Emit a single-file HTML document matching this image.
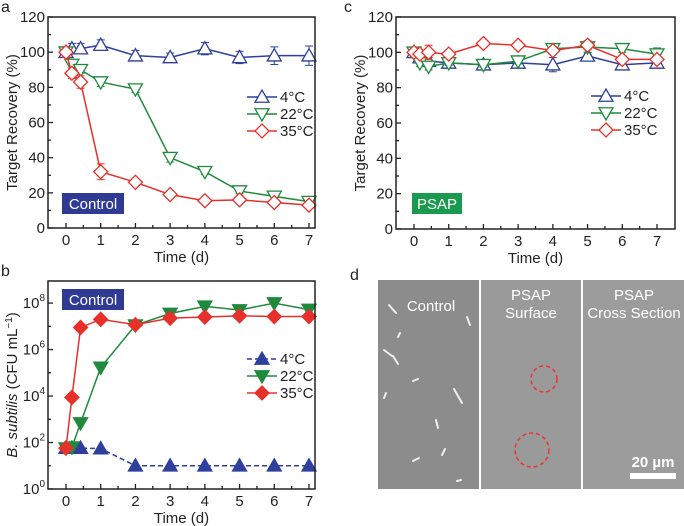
<!DOCTYPE html>
<html><head><meta charset="utf-8"><style>
body{margin:0;background:#fff}
svg{display:block;font-family:"Liberation Sans",sans-serif}
</style></head><body>
<svg id="fig" width="684" height="526" viewBox="0 0 684 526" xmlns="http://www.w3.org/2000/svg">
<g id="d">
 <text x="350" y="280" font-size="16" fill="#222">d</text>
 <rect x="378" y="280" width="101" height="209" fill="#8c8c8c"/>
 <rect x="481" y="280" width="100" height="209" fill="#9a9a9a"/>
 <rect x="583" y="280" width="101" height="209" fill="#9c9c9c"/>
 <g stroke="#eee" stroke-width="2" stroke-linecap="round">
  <line x1="389" y1="305" x2="396" y2="313"/><line x1="384" y1="350" x2="392" y2="356"/><line x1="393" y1="356" x2="398" y2="364"/>
  <line x1="454" y1="389" x2="462" y2="403"/><line x1="467" y1="317" x2="470" y2="325"/><line x1="436" y1="420" x2="438" y2="428"/>
  <line x1="413" y1="381" x2="418" y2="379"/><line x1="442" y1="455" x2="445" y2="449"/><line x1="413" y1="461" x2="419" y2="458"/>
  <line x1="384" y1="398" x2="386" y2="393"/><line x1="398" y1="337" x2="400" y2="333"/><line x1="457" y1="481" x2="461" y2="480"/>
 </g>
 <circle cx="544" cy="379" r="13" fill="none" stroke="#e33" stroke-width="1.5" stroke-dasharray="4 3"/>
 <circle cx="532" cy="450" r="17" fill="none" stroke="#e33" stroke-width="1.5" stroke-dasharray="4 3"/>
 <g fill="#fff" font-size="15" text-anchor="middle">
  <text x="431" y="311">Control</text>
  <text x="531" y="300">PSAP</text>
  <text x="531" y="318">Surface</text>
  <text x="634" y="300">PSAP</text>
  <text x="634" y="318">Cross Section</text>
  <text x="653" y="467" font-weight="bold">20 µm</text>
 </g>
 <rect x="630" y="473" width="46" height="6" fill="#fff"/>
</g>
</svg>
<script>
const days = [0, 0.17, 0.42, 1, 2, 3, 4, 5, 6, 7];
const seriesNames = ["4°C", "22°C", "35°C"];
const aVal4 = [100, 102, 102, 104, 98, 97, 102, 97, 98, 98];
const aVal22 = [100, 93, 90, 83, 79, 40, 32, 21, 18, 15];
const aVal35 = [100, 88, 83, 32, 26, 19, 15.5, 16, 14.5, 13];
const aErr4 = [3, 3, 3, 3, 3, 2.5, 3.5, 3.5, 5, 5.5];
const aErr22 = [2, 2, 2, 2.5, 2, 2.5, 1.5, 1.5, 1.5, 1.5];
const aErr35 = [3, 3, 3.5, 4.5, 2, 2, 1.5, 1.5, 1.5, 1.5];
const cVal4 = [100, 97, 95, 94, 93, 94, 93, 98, 93, 94];
const cVal22 = [100, 94, 92, 94, 93, 95, 102, 103, 102, 99];
const cVal35 = [100, 99, 100, 99, 105, 104, 101, 104, 96, 96];
const cErr4 = [2, 2, 2, 1.5, 1.5, 1.5, 4, 2, 1.5, 1.5];
const cErr22 = [2, 2, 2, 1.5, 1.5, 1.5, 2, 3, 2, 3.5];
const cErr35 = [2, 2, 4, 2, 1.5, 1.5, 2, 2.5, 2, 1.5];
const bLog4 = [1.76, 1.76, 1.76, 1.74, 1.0, 1.0, 1.0, 1.0, 1.0, 1.0];
const bLog22 = [1.76, 1.8, 2.84, 5.23, 7.05, 7.55, 7.86, 7.7, 8.0, 7.72];
const bLog35 = [1.76, 3.94, 6.95, 7.3, 7.07, 7.35, 7.4, 7.45, 7.42, 7.42];
const xTicks = [0, 1, 2, 3, 4, 5, 6, 7];
const linTicks = [0, 20, 40, 60, 80, 100, 120];
const logTicks = [0, 2, 4, 6, 8];

const NS = "http://www.w3.org/2000/svg";
const svg = document.getElementById("fig");
const colors = ["#2e3f9c", "#1f8a3c", "#e8302a"];
function mk(tag, attrs, parent) {
  const e = document.createElementNS(NS, tag);
  for (const k in attrs) e.setAttribute(k, attrs[k]);
  (parent || svg).appendChild(e);
  return e;
}
function marker(g, kind, x, y, color, filled) {
  const s = 7;
  let el;
  if (kind === 0) el = mk("polygon", {points: `${x},${y-s} ${x-s},${y+s*0.75} ${x+s},${y+s*0.75}`}, g);
  else if (kind === 1) el = mk("polygon", {points: `${x},${y+s} ${x-s},${y-s*0.75} ${x+s},${y-s*0.75}`}, g);
  else el = mk("polygon", {points: `${x},${y-s} ${x+s},${y} ${x},${y+s} ${x-s},${y}`}, g);
  el.setAttribute("fill", filled ? color : "#fff");
  el.setAttribute("stroke", color);
  el.setAttribute("stroke-width", "1.3");
  
  
}
function panel(opt) {
  const g = mk("g", {});
  
  
  const {L, R, T, B, x0, x7} = opt;
  const sx = d => x0 + (x7 - x0) * d / 7;
  const sy = v => B - (B - T) * (v - opt.ymin) / (opt.ymax - opt.ymin);
  const lbl = mk("text", {x: opt.lx, y: opt.ly, "font-size": 16, fill: "#222"}, g);
  lbl.textContent = opt.letter;
  
  
  xTicks.forEach(t => {
    mk("line", {x1: sx(t), x2: sx(t), y1: B, y2: B - 5, stroke: "#222", "stroke-width": 1.3}, g);
    if (t < 7) mk("line", {x1: sx(t + 0.5), x2: sx(t + 0.5), y1: B, y2: B - 3, stroke: "#222", "stroke-width": 1.3}, g);
    const tx = mk("text", {x: sx(t), y: B + 17, "font-size": 15, "text-anchor": "middle", fill: "#222"}, g);
    tx.textContent = t;
    
    
  });
  opt.yTicks.forEach((t, i) => {
    const y = sy(t);
    mk("line", {x1: L, x2: L + 5, y1: y, y2: y, stroke: "#222", "stroke-width": 1.3}, g);
    const ty = mk("text", {x: L - 3, y: y + 5, "font-size": 15, "text-anchor": "end", fill: "#222"}, g);
    if (opt.log) { ty.innerHTML = "10<tspan dy='-7' font-size='10'>" + t + "</tspan>"; }
    else ty.textContent = t;
    
    
    if (i < opt.yTicks.length - 1 || opt.log) {
      const m = opt.log ? sy(t + 1) : sy(t + 10);
      if (m >= T) mk("line", {x1: L, x2: L + 3, y1: m, y2: m, stroke: "#222", "stroke-width": 1.3}, g);
    }
  });
  const xt = mk("text", {x: (L + R) / 2, y: B + 34, "font-size": 15, "text-anchor": "middle", fill: "#222"}, g);
  xt.textContent = "Time (d)";
  
  
  const yt = mk("text", {x: 0, y: 0, "font-size": 15, "text-anchor": "middle", fill: "#222", transform: `translate(${L - 31},${(T + B) / 2}) rotate(-90)`}, g);
  if (opt.log) yt.innerHTML = "<tspan font-style='italic'>B. subtilis</tspan> (CFU mL<tspan dy='-5' font-size='10'>−1</tspan><tspan dy='5'>)</tspan>";
  else yt.textContent = "Target Recovery (%)";
  
  
  const tb = mk("rect", {x: opt.tag[0], y: opt.tag[1], width: opt.tag[2], height: 21, fill: opt.tagColor}, g);
  
  
  const tt = mk("text", {x: opt.tag[0] + opt.tag[2] / 2, y: opt.tag[1] + 16, "font-size": 15, fill: "#fff", "text-anchor": "middle"}, g);
  tt.textContent = opt.tagText;
  
  
  opt.series.forEach((vals, si) => {
    const c = colors[si];
    const sg = mk("g", {}, g);
    
    
    const pts = vals.map((v, i) => sx(days[i]) + "," + sy(v)).join(" ");
    const pl = mk("polyline", {points: pts, fill: "none", stroke: c, "stroke-width": 1.5}, sg);
    if (opt.log && si === 0) pl.setAttribute("stroke-dasharray", "5 3");
    
    
    if (opt.errs) vals.forEach((v, i) => {
      const e = opt.errs[si][i], x = sx(days[i]);
      mk("line", {x1: x, x2: x, y1: sy(v - e), y2: sy(v + e), stroke: c, "stroke-width": 1}, sg);
      mk("line", {x1: x - 4, x2: x + 4, y1: sy(v - e), y2: sy(v - e), stroke: c, "stroke-width": 1}, sg);
      mk("line", {x1: x - 4, x2: x + 4, y1: sy(v + e), y2: sy(v + e), stroke: c, "stroke-width": 1}, sg);
    });
    vals.forEach((v, i) => marker(sg, si, sx(days[i]), sy(v), c, opt.log));
    const ly = opt.leg[1] + si * 17;
    const ll = mk("line", {x1: opt.leg[0], x2: opt.leg[0] + 30, y1: ly, y2: ly, stroke: c, "stroke-width": 1.5}, g);
    if (opt.log && si === 0) ll.setAttribute("stroke-dasharray", "5 3");
    
    
    marker(g, si, opt.leg[0] + 15, ly, c, opt.log);
    const lt = mk("text", {x: opt.leg[0] + 33, y: ly + 5, "font-size": 15, fill: "#222"}, g);
    lt.textContent = seriesNames[si];
    
    
  });
  const fr = mk("rect", {x: L, y: T, width: R - L, height: B - T, fill: "none", stroke: "#222", "stroke-width": 1.5}, g);
  
  
}
panel({name: "panel-a-chart", letter: "a", lx: 1, ly: 12, L: 48, R: 315, T: 17, B: 228, x0: 66, x7: 309,
  ymin: 0, ymax: 120, yTicks: linTicks, series: [aVal4, aVal22, aVal35], errs: [aErr4, aErr22, aErr35],
  tag: [62, 193, 62], tagColor: "#2f3a93", tagText: "Control", leg: [247, 97]});
panel({name: "panel-c-chart", letter: "c", lx: 344, ly: 12, L: 396, R: 675, T: 17, B: 229, x0: 414, x7: 657,
  ymin: 0, ymax: 120, yTicks: linTicks, series: [cVal4, cVal22, cVal35], errs: [cErr4, cErr22, cErr35],
  tag: [412, 193, 50], tagColor: "#1a9a4e", tagText: "PSAP", leg: [591, 96]});
panel({name: "panel-b-chart", letter: "b", lx: 1, ly: 276, L: 48, R: 315, T: 281, B: 489, x0: 66, x7: 309,
  ymin: 0, ymax: 8.95, yTicks: logTicks, log: true, series: [bLog4, bLog22, bLog35], errs: null,
  tag: [62, 289, 62], tagColor: "#2f3a93", tagText: "Control", leg: [247, 359]});
</script>
</body></html>
